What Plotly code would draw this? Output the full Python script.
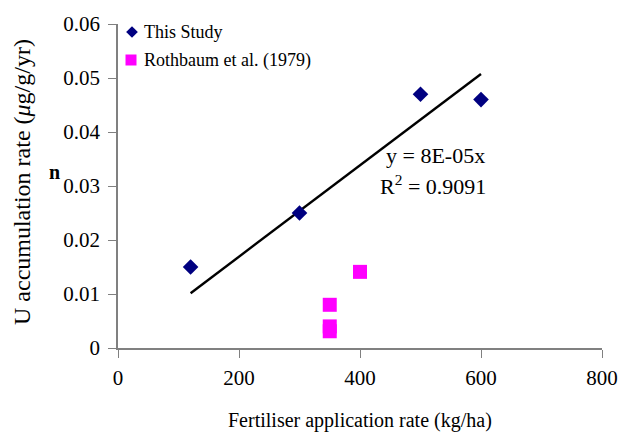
import plotly.graph_objects as go

study_x = [120, 300, 500, 600]
study_y = [0.015, 0.025, 0.047, 0.046]
roth_x = [350, 350, 350, 400]
roth_y = [0.008, 0.0040, 0.0031, 0.0141]
x_ticks = [0, 200, 400, 600, 800]
y_ticks = [0, 0.01, 0.02, 0.03, 0.04, 0.05, 0.06]
y_tick_text = ["0", "0.01", "0.02", "0.03", "0.04", "0.05", "0.06"]
series_names = ["This Study", "Rothbaum et al. (1979)"]

slope = sum(a * b for a, b in zip(study_x, study_y)) / sum(a * a for a in study_x)
fit_x = [min(study_x), max(study_x)]
fit_y = [slope * v for v in fit_x]

font = "Liberation Serif"
W, H = 621, 433
L, R, T, B = 118, 19, 24, 85
PW, PH = W - L - R, H - T - B


def px(x):
    return (x - L) / PW


def py(y):
    return (H - B - y) / PH


fig = go.Figure()
fig.add_trace(go.Scatter(x=fit_x, y=fit_y, mode="lines", line=dict(color="black", width=2.4),
                         showlegend=False, hoverinfo="skip"))
fig.add_trace(go.Scatter(x=study_x, y=study_y, mode="markers", name=series_names[0], showlegend=False,
                         marker=dict(symbol="diamond", size=12, color="#000080")))
fig.add_trace(go.Scatter(x=roth_x, y=roth_y, mode="markers", name=series_names[1], showlegend=False,
                         marker=dict(symbol="square", size=14, color="#FF00FF")))

# manual legend (markers on an overlay pixel axis)
fig.add_trace(go.Scatter(x=[14], y=[PH - 8], xaxis="x2", yaxis="y2", mode="markers", showlegend=False,
                         hoverinfo="skip", marker=dict(symbol="diamond", size=9, color="#000080")))
fig.add_trace(go.Scatter(x=[13], y=[PH - 36], xaxis="x2", yaxis="y2", mode="markers", showlegend=False,
                         hoverinfo="skip", marker=dict(symbol="square", size=11, color="#FF00FF")))
fig.add_annotation(x=px(142), y=py(32), xref="paper", yref="paper", text=series_names[0], showarrow=False,
                   xanchor="left", yanchor="middle", font=dict(family=font, size=18, color="black"))
fig.add_annotation(x=px(142), y=py(60), xref="paper", yref="paper", text=series_names[1], showarrow=False,
                   xanchor="left", yanchor="middle", font=dict(family=font, size=18, color="black"))

fig.add_annotation(x=px(435), y=py(155), xref="paper", yref="paper", text="y = 8E-05x", showarrow=False,
                   font=dict(family=font, size=22, color="black"), xanchor="center", yanchor="middle")
fig.add_annotation(x=px(433), y=py(185), xref="paper", yref="paper", text="R<sup>2</sup> = 0.9091",
                   showarrow=False,
                   font=dict(family=font, size=22, color="black"), xanchor="center", yanchor="middle")
fig.add_annotation(x=px(55), y=py(172), xref="paper", yref="paper",
                   text="<b>n</b>", showarrow=False, xanchor="center", yanchor="middle",
                   font=dict(family=font, size=20, color="black"))

# axis titles
fig.add_annotation(x=px(360), y=py(420), xref="paper", yref="paper",
                   text="Fertiliser application rate (kg/ha)", showarrow=False,
                   xanchor="center", yanchor="middle", font=dict(family=font, size=20, color="black"))
fig.add_annotation(x=px(22), y=py(182), xref="paper", yref="paper", textangle=-90,
                   text="U accumulation rate (<i>μ</i>g/g/yr)", showarrow=False,
                   xanchor="center", yanchor="middle", font=dict(family=font, size=24, color="black"))

fig.update_layout(
    width=W, height=H,
    margin=dict(l=L, r=R, t=T, b=B),
    paper_bgcolor="white", plot_bgcolor="white",
    font=dict(family=font, size=21, color="black"),
    showlegend=False,
    xaxis=dict(range=[0, 800], tickvals=x_ticks, showgrid=False, zeroline=False, automargin=False,
               showline=True, linecolor="#808080", linewidth=1.5, ticks="outside", ticklen=8,
               tickcolor="#808080", tickfont=dict(family=font, size=21), ticklabelstandoff=2),
    yaxis=dict(range=[0, 0.06], tickvals=y_ticks, ticktext=y_tick_text, showgrid=False, zeroline=False,
               automargin=False,
               showline=True, linecolor="#808080", linewidth=1.5, ticks="outside", ticklen=8,
               tickcolor="#808080", tickfont=dict(family=font, size=21), ticklabelstandoff=4),
    xaxis2=dict(overlaying="x", range=[0, PW], visible=False, fixedrange=True),
    yaxis2=dict(overlaying="y", range=[0, PH], visible=False, fixedrange=True),
)

fig.write_html("out.html", config={"displayModeBar": False},
               post_script="document.body.style.margin='0';")
